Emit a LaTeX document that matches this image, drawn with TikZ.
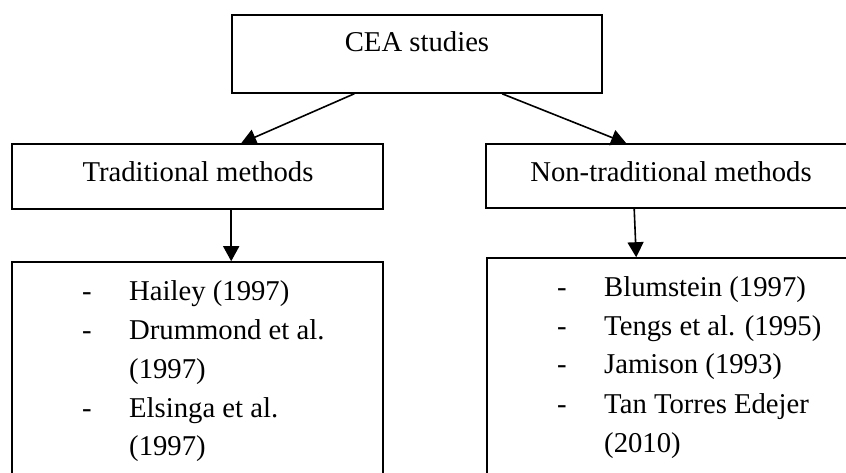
\documentclass[tikz,border=0pt]{standalone}
\usepackage{fontspec}
\setmainfont{Liberation Serif}
\usetikzlibrary{arrows.meta}
\begin{document}
\begin{tikzpicture}[x=1pt,y=-1pt,
  box/.style={draw=black,line width=1.6pt,rectangle,inner sep=0pt},
  txt/.style={inner sep=0pt,font=\fontsize{28.7}{34}\selectfont},
  arr/.style={line width=1.6pt,-{Triangle[length=15pt,width=16pt]}}]
\useasboundingbox (0,0) rectangle (846,473);
\clip (0,0) rectangle (846,473);
\fill[white] (0,0) rectangle (846,473);
% boxes
\node[box,minimum width=370pt,minimum height=78pt] (top) at (417,54) {};
\node[box,minimum width=371pt,minimum height=65pt] (trad) at (197.5,176.5) {};
\node[box,minimum width=414pt,minimum height=64pt] (non) at (693,176) {};
\node[box,minimum width=371pt,minimum height=258pt] (lbox) at (197.5,391) {};
\node[box,minimum width=413pt,minimum height=262pt] (rbox) at (693.5,389) {};
% titles
\node[txt,anchor=base] (topt) at (417,52) {CEA studies};
\node[txt,anchor=base] (tradt) at (198,182) {Traditional methods};
\node[txt,anchor=base] (nont) at (671,182) {Non-traditional methods};
% left list
\node[txt,anchor=base west] (ld1) at (82,300) {-};
\node[txt,anchor=base west] (ld2) at (82,339) {-};
\node[txt,anchor=base west] (ld3) at (82,417) {-};
\node[txt,anchor=base west] (l1) at (129,300) {Hailey (1997)};
\node[txt,anchor=base west] (l2) at (129,339) {Drummond et al.};
\node[txt,anchor=base west] (l3) at (129,378) {(1997)};
\node[txt,anchor=base west] (l4) at (129,417) {Elsinga et al.};
\node[txt,anchor=base west] (l5) at (129,455) {(1997)};
% right list
\node[txt,anchor=base west] (rd1) at (557,296) {-};
\node[txt,anchor=base west] (rd2) at (557,335) {-};
\node[txt,anchor=base west] (rd3) at (557,373) {-};
\node[txt,anchor=base west] (rd4) at (557,413) {-};
\node[txt,anchor=base west] (r1) at (604,296) {Blumstein (1997)};
\node[txt,anchor=base west] (r2) at (604,335) {Tengs et al. (1995)};
\node[txt,anchor=base west] (r3) at (604,373) {Jamison (1993)};
\node[txt,anchor=base west] (r4) at (604,413) {Tan Torres Edejer};
\node[txt,anchor=base west] (r5) at (604,452) {(2010)};
% connectors
\draw[arr] ([xshift=123pt]top.south west) -- ([xshift=230pt]trad.north west);
\draw[arr] ([xshift=271pt]top.south west) -- ([xshift=141pt]non.north west);
\draw[arr] ([xshift=220pt]trad.south west) -- ([xshift=220pt]lbox.north west);
\draw[arr] ([xshift=149pt]non.south west) -- ([xshift=150pt]rbox.north west);
\end{tikzpicture}
\end{document}
